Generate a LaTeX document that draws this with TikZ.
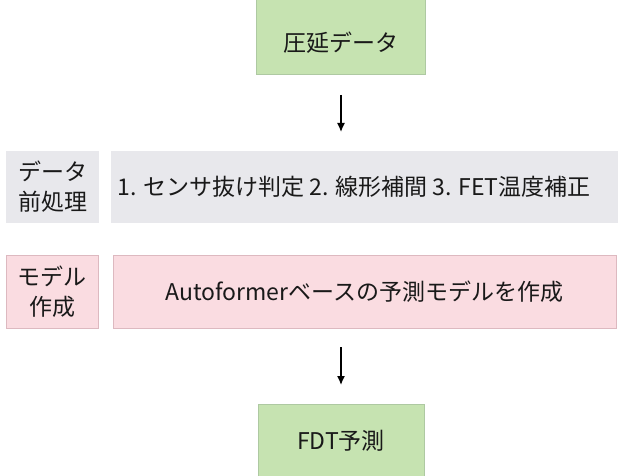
\documentclass[tikz,border=0pt]{standalone}
\usepackage{fontspec}
\setmainfont{Noto Sans CJK JP}
\usetikzlibrary{arrows.meta}
\definecolor{gfill}{HTML}{C6E3B1}
\definecolor{gdraw}{HTML}{AEC9A2}
\definecolor{sfill}{HTML}{E8E8EC}
\definecolor{pfill}{HTML}{FADCE1}
\definecolor{pdraw}{HTML}{DDB9C0}
\tikzset{
  greenbox/.style={draw=gdraw, fill=gfill, line width=0.8pt, inner sep=0pt},
  graybox/.style={draw=none, fill=sfill, inner sep=0pt},
  pinkbox/.style={draw=pdraw, fill=pfill, line width=0.8pt, inner sep=0pt},
  lbl/.style={font=\fontsize{23}{27}\selectfont, align=center, text=black!90},
  lbl2/.style={lbl, text width=90pt, font=\fontsize{23}{30}\selectfont},
  arr/.style={line width=1.4pt, -{Latex[length=9pt,width=8pt]}}
}
\begin{document}
\begin{tikzpicture}[x=1pt,y=-1pt]
\useasboundingbox (0,0) rectangle (618,476);
\node[greenbox, minimum width=169pt, minimum height=80pt] (top) at (340.5,34) {};
\node[lbl] (toptxt) at (341,43) {圧延データ};
\node[graybox, minimum width=93pt, minimum height=72pt] (pre) at (52.5,187) {};
\node[lbl2] (pretxt) at (pre) {データ\\前処理};
\node[graybox, minimum width=510pt, minimum height=72pt] (prebig) at (366,187) {};
\node[lbl] (prebigtxt) at (354,187) {1. センサ抜け判定 2. 線形補間 3. FET温度補正};
\node[pinkbox, minimum width=92pt, minimum height=73pt] (mod) at (52,291.5) {};
\node[lbl2] (modtxt) at (mod) {モデル\\作成};
\node[pinkbox, minimum width=503pt, minimum height=73pt] (modbig) at (364.5,291.5) {};
\node[lbl] (modbigtxt) at (modbig) {Autoformerベースの予測モデルを作成};
\node[greenbox, minimum width=166pt, minimum height=78pt] (fdt) at (341,443) {};
\node[lbl] (fdttxt) at (341,441) {FDT予測};
\coordinate (a1s) at (341,95);
\coordinate (a1e) at (341,132);
\coordinate (a2s) at (341,347);
\coordinate (a2e) at (341,385);
\draw[arr] (a1s) -- (a1e);
\draw[arr] (a2s) -- (a2e);
\end{tikzpicture}
\end{document}
